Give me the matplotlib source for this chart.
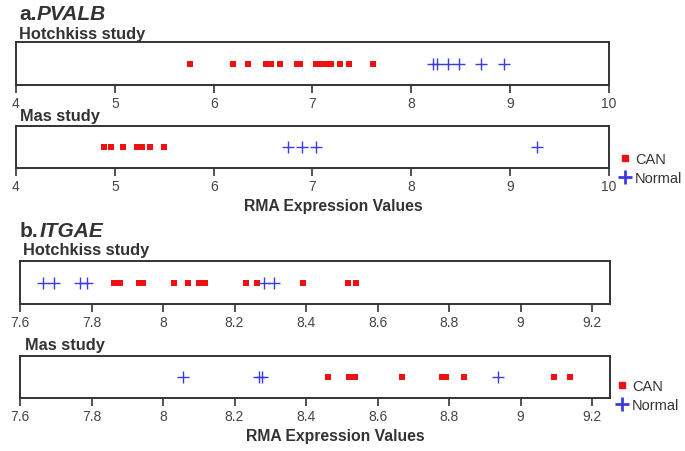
import matplotlib
matplotlib.use("Agg")
import matplotlib.pyplot as plt
from matplotlib.lines import Line2D
from matplotlib import font_manager

# ---- data ----
pvalb_hot_can = [5.76, 6.20, 6.35, 6.53, 6.58, 6.67, 6.84, 6.87, 7.04, 7.07, 7.10,
                 7.15, 7.19, 7.28, 7.37, 7.61]
pvalb_hot_normal = [8.22, 8.26, 8.37, 8.48, 8.70, 8.94]
pvalb_mas_can = [4.89, 4.96, 5.08, 5.22, 5.27, 5.36, 5.50]
pvalb_mas_normal = [6.75, 6.89, 7.04, 9.27]

itgae_hot_can = [7.864, 7.88, 7.933, 7.943, 8.03, 8.07, 8.10, 8.118, 8.232, 8.264,
                 8.392, 8.518, 8.539]
itgae_hot_normal = [7.663, 7.694, 7.768, 7.787, 8.282, 8.31]
itgae_mas_can = [8.46, 8.52, 8.537, 8.667, 8.78, 8.792, 8.843, 9.094, 9.138]
itgae_mas_normal = [8.056, 8.267, 8.276, 8.936]

pvalb_ticks = [4, 5, 6, 7, 8, 9, 10]
itgae_ticks = [7.6, 7.8, 8.0, 8.2, 8.4, 8.6, 8.8, 9.0, 9.2]
itgae_ticklabels = ["7.6", "7.8", "8", "8.2", "8.4", "8.6", "8.8", "9", "9.2"]
legend_labels = ["CAN", "Normal"]

# ---- style ----
W, H = 685, 452
RED = "#ee1111"
BLUE = "#3b3be0"
TXT = "#333333"
avail = {f.name for f in font_manager.fontManager.ttflist}
narrow = "Liberation Sans Narrow" if "Liberation Sans Narrow" in avail else "Liberation Sans"
plt.rcParams["font.family"] = ["Liberation Sans", "DejaVu Sans"]

fig = plt.figure(figsize=(W / 100, H / 100), dpi=100)


def px_axes(x0, x1, y0, y1):
    return fig.add_axes([x0 / W, 1 - y1 / H, (x1 - x0) / W, (y1 - y0) / H])


def strip(ax, can, normal, xlim, ticks, ticklabels):
    ax.scatter(can, [0] * len(can), marker="s", s=14, color=RED, linewidths=0, zorder=3)
    ax.scatter(normal, [0] * len(normal), marker="+", s=85, color=BLUE, linewidths=1.0, zorder=3)
    ax.set_xlim(*xlim)
    ax.set_ylim(-1, 1)
    ax.set_yticks([])
    ax.set_xticks(ticks)
    ax.set_xticklabels(ticklabels, fontfamily=narrow, fontsize=10, color="#444444")
    ax.tick_params(axis="x", direction="out", length=6, width=1.2, color="#333333", pad=2)
    for s in ax.spines.values():
        s.set_color("#333333")
        s.set_linewidth(1.4)


def legend_at(xp, yp):
    handles = [Line2D([], [], marker="s", color=RED, linestyle="none", markersize=5),
               Line2D([], [], marker="+", color=BLUE, linestyle="none", markersize=10,
                      markeredgewidth=2.0)]
    fig.legend(handles, legend_labels, loc="upper left", bbox_to_anchor=(xp / W, 1 - yp / H),
               frameon=False, handlelength=0.6, handletextpad=0.4, labelspacing=0.35,
               borderpad=0, prop={"family": narrow, "size": 10.5}, labelcolor=TXT)


# panel a
ax1 = px_axes(16, 609, 43, 86)
strip(ax1, pvalb_hot_can, pvalb_hot_normal, (4, 10), pvalb_ticks, [str(t) for t in pvalb_ticks])
ax2 = px_axes(16, 609, 127, 169)
strip(ax2, pvalb_mas_can, pvalb_mas_normal, (4, 10), pvalb_ticks, [str(t) for t in pvalb_ticks])

# panel b
ax3 = px_axes(20, 610, 262, 305)
strip(ax3, itgae_hot_can, itgae_hot_normal, (7.6, 9.25), itgae_ticks, itgae_ticklabels)
ax4 = px_axes(20, 610, 357, 399)
strip(ax4, itgae_mas_can, itgae_mas_normal, (7.6, 9.25), itgae_ticks, itgae_ticklabels)


def ftext(x, y, s, **kw):
    fig.text(x / W, 1 - y / H, s, va="baseline", color=TXT, **kw)


ftext(19, 20, "a.", fontsize=15, fontweight="bold")
ftext(37, 20, "PVALB", fontsize=15, fontweight="bold", fontstyle="italic")
ftext(19, 39, "Hotchkiss study", fontsize=11.8, fontweight="bold")
ftext(20, 121, "Mas study", fontsize=11.8, fontweight="bold")
ftext(333, 211, "RMA Expression Values", fontsize=11.3, fontweight="bold", ha="center")

ftext(20, 237, "b.", fontsize=15, fontweight="bold")
ftext(40, 237, "ITGAE", fontsize=15, fontweight="bold", fontstyle="italic")
ftext(23, 255, "Hotchkiss study", fontsize=11.8, fontweight="bold")
ftext(25, 350, "Mas study", fontsize=11.8, fontweight="bold")
ftext(335, 441, "RMA Expression Values", fontsize=11.3, fontweight="bold", ha="center")

legend_at(613, 146)
legend_at(610, 373)

fig.savefig("out.png", dpi=100, facecolor="white")
